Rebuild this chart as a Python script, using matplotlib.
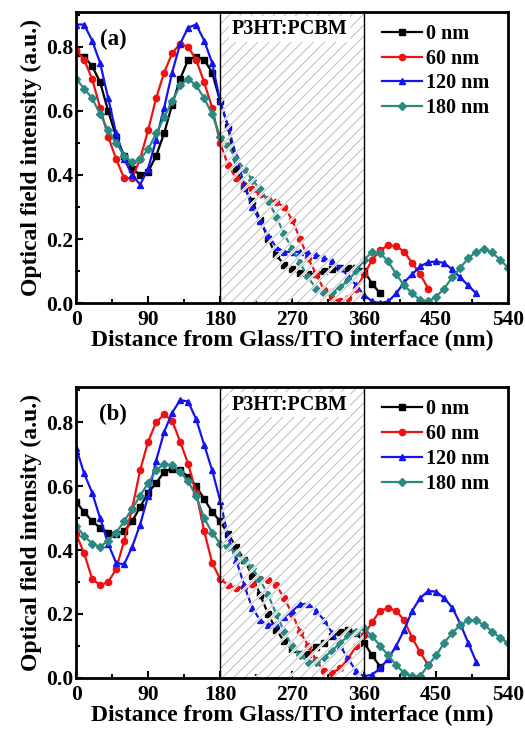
import numpy as np
import matplotlib
matplotlib.use("Agg")
import matplotlib.pyplot as plt
from matplotlib.patches import Rectangle

plt.rcParams['font.family'] = ['Liberation Serif', 'DejaVu Serif']
plt.rcParams['font.weight'] = 'bold'
plt.rcParams['axes.labelweight'] = 'bold'

# optical field intensity sampled every 10 nm from the glass/ITO interface
labels = ["0 nm", "60 nm", "120 nm", "180 nm"]
colors = ["black", "#ee1111", "#1414ee", "#2a8a82"]
markers = ["s", "o", "^", "D"]

a_black = [0.78, 0.77, 0.74, 0.69, 0.60, 0.52, 0.46, 0.42, 0.40, 0.41, 0.46, 0.53, 0.62, 0.70, 0.76, 0.77, 0.76, 0.72, 0.63,
           0.55, 0.42, 0.36, 0.32, 0.26, 0.20, 0.15, 0.12, 0.105, 0.095, 0.09, 0.09, 0.10, 0.105, 0.11, 0.11, 0.11, 0.10, 0.06, 0.03]
a_red = [0.79, 0.76, 0.70, 0.61, 0.52, 0.45, 0.39, 0.39, 0.45, 0.54, 0.64, 0.72, 0.78, 0.81, 0.80, 0.76, 0.69, 0.61, 0.50,
         0.43, 0.39, 0.37, 0.355, 0.34, 0.325, 0.315, 0.30, 0.26, 0.20, 0.14, 0.09, 0.04, 0.015, 0.005, 0.015, 0.045, 0.09,
         0.135, 0.165, 0.18, 0.178, 0.16, 0.125, 0.09, 0.045]
a_blue = [0.87, 0.87, 0.82, 0.75, 0.64, 0.53, 0.45, 0.40, 0.37, 0.42, 0.51, 0.61, 0.72, 0.81, 0.86, 0.87, 0.82, 0.75, 0.63,
          0.55, 0.46, 0.37, 0.30, 0.255, 0.21, 0.175, 0.16, 0.16, 0.16, 0.155, 0.15, 0.14, 0.13, 0.11, 0.085, 0.055, 0.025,
          0.005, 0.0, 0.005, 0.03, 0.065, 0.09, 0.115, 0.127, 0.13, 0.125, 0.105, 0.08, 0.055, 0.03]
a_teal = [0.70, 0.67, 0.64, 0.59, 0.54, 0.50, 0.46, 0.44, 0.45, 0.48, 0.53, 0.58, 0.63, 0.68, 0.70, 0.68, 0.64, 0.59, 0.52,
          0.49, 0.45, 0.42, 0.385, 0.355, 0.32, 0.27, 0.215, 0.17, 0.125, 0.08, 0.045, 0.03, 0.035, 0.05, 0.07, 0.10, 0.135,
          0.16, 0.155, 0.13, 0.09, 0.055, 0.03, 0.01, 0.005, 0.02, 0.045, 0.08, 0.11, 0.14, 0.16, 0.168, 0.158, 0.135, 0.11]

b_black = [0.55, 0.52, 0.49, 0.47, 0.455, 0.45, 0.46, 0.49, 0.535, 0.58, 0.61, 0.645, 0.655, 0.65, 0.63, 0.60, 0.56, 0.52, 0.49,
           0.45, 0.41, 0.37, 0.32, 0.26, 0.20, 0.15, 0.115, 0.09, 0.075, 0.075, 0.095, 0.11, 0.13, 0.145, 0.15, 0.14, 0.11, 0.07, 0.035]
b_red = [0.45, 0.39, 0.31, 0.29, 0.30, 0.34, 0.43, 0.53, 0.65, 0.74, 0.80, 0.825, 0.805, 0.74, 0.67, 0.58, 0.46, 0.36, 0.31,
         0.29, 0.28, 0.285, 0.295, 0.31, 0.305, 0.29, 0.25, 0.20, 0.145, 0.10, 0.055, 0.02, 0.015, 0.03, 0.06, 0.10, 0.135,
         0.175, 0.21, 0.218, 0.21, 0.18, 0.125, 0.08, 0.04]
b_blue = [0.72, 0.64, 0.58, 0.50, 0.42, 0.36, 0.355, 0.41, 0.48, 0.57, 0.68, 0.77, 0.83, 0.87, 0.865, 0.81, 0.73, 0.65, 0.555,
          0.44, 0.37, 0.29, 0.22, 0.18, 0.165, 0.17, 0.19, 0.21, 0.23, 0.232, 0.21, 0.18, 0.14, 0.10, 0.06, 0.02, 0.005,
          0.01, 0.03, 0.06, 0.10, 0.15, 0.21, 0.25, 0.272, 0.27, 0.25, 0.22, 0.17, 0.11, 0.05]
b_teal = [0.475, 0.445, 0.42, 0.41, 0.43, 0.455, 0.49, 0.53, 0.57, 0.61, 0.65, 0.67, 0.665, 0.645, 0.615, 0.57, 0.50, 0.455, 0.42,
          0.41, 0.39, 0.37, 0.345, 0.305, 0.26, 0.20, 0.145, 0.10, 0.07, 0.05, 0.05, 0.065, 0.085, 0.11, 0.13, 0.145, 0.155,
          0.13, 0.10, 0.07, 0.04, 0.015, 0.005, 0.005, 0.04, 0.07, 0.11, 0.14, 0.165, 0.18, 0.18, 0.165, 0.145, 0.125, 0.108]

step = 10
layer = (180, 360)
xticks = [0, 90, 180, 270, 360, 450, 540]
yticks = [0.0, 0.2, 0.4, 0.6, 0.8]

fig = plt.figure(figsize=(5.25, 7.32), dpi=100)
ax_a = fig.add_axes([0.145, 0.586, 0.823, 0.398])
ax_b = fig.add_axes([0.145, 0.074, 0.823, 0.397])


def hatch_box(ax, color, lw, z):
    r = Rectangle((layer[0], 0), layer[1] - layer[0], 1, transform=ax.get_xaxis_transform(),
                  facecolor='none', edgecolor=color, hatch='///', linewidth=0, zorder=z)
    if hasattr(r, 'set_hatch_linewidth'):
        r.set_hatch_linewidth(lw)
    ax.add_patch(r)


def draw_panel(ax, series, tag):
    for vals, c, m, lab in zip(series, colors, markers, labels):
        dist = np.arange(len(vals)) * step
        ax.plot(dist, vals, color=c, marker=m, markersize=4.5 if m != 'D' else 3.8,
                linewidth=1.6, label=lab, zorder=3)
    # hatched active layer laid over the curves
    hatch_box(ax, 'white', 2.0, 4)
    hatch_box(ax, '#b4b4b4', 0.6, 5)
    for xv in layer:
        ax.axvline(xv, color='black', linewidth=1.0, zorder=6)
    ax.text(267, 0.94, "P3HT:PCBM", transform=ax.get_xaxis_transform(), ha='center', va='center',
            fontsize=14.5, fontweight='bold', zorder=7,
            bbox=dict(facecolor='white', edgecolor='none', pad=2.0))
    ax.text(0.085, 0.905, tag, transform=ax.transAxes, ha='center', va='center',
            fontsize=16.5, fontweight='bold', zorder=7)

    ax.set_xlim(0, 540)
    ax.set_ylim(0, 0.91)
    ax.set_xticks(xticks)
    ax.set_xticks(np.arange(45, 540, 90), minor=True)
    ax.set_yticks(yticks)
    ax.set_yticks([0.1, 0.3, 0.5, 0.7, 0.9], minor=True)
    ax.set_yticklabels([f"{t:.1f}" for t in yticks])
    ax.tick_params(which='both', direction='in', labelsize=15.5, width=1.5)
    ax.tick_params(axis='x', pad=5)
    ax.tick_params(axis='y', pad=2)
    ax.tick_params(which='major', length=5)
    ax.tick_params(which='minor', length=3)
    for lab in ax.get_xticklabels() + ax.get_yticklabels():
        lab.set_fontweight('bold')
    for s in ax.spines.values():
        s.set_linewidth(2)
        s.set_zorder(8)

    ax.set_xlabel("Distance from Glass/ITO interface (nm)", fontsize=17, labelpad=0)
    ax.set_ylabel("Optical field intensity (a.u.)", fontsize=17, labelpad=3)

    leg = ax.legend(loc='upper right', bbox_to_anchor=(0.985, 1.0), frameon=False, fontsize=14.5,
                    handlelength=2.0, handletextpad=0.2, labelspacing=0.24, borderaxespad=0.2)
    for t in leg.get_texts():
        t.set_fontweight('bold')
    leg.set_zorder(9)


draw_panel(ax_a, [a_black, a_red, a_blue, a_teal], "(a)")
draw_panel(ax_b, [b_black, b_red, b_blue, b_teal], "(b)")

fig.savefig("out.png", dpi=100)
